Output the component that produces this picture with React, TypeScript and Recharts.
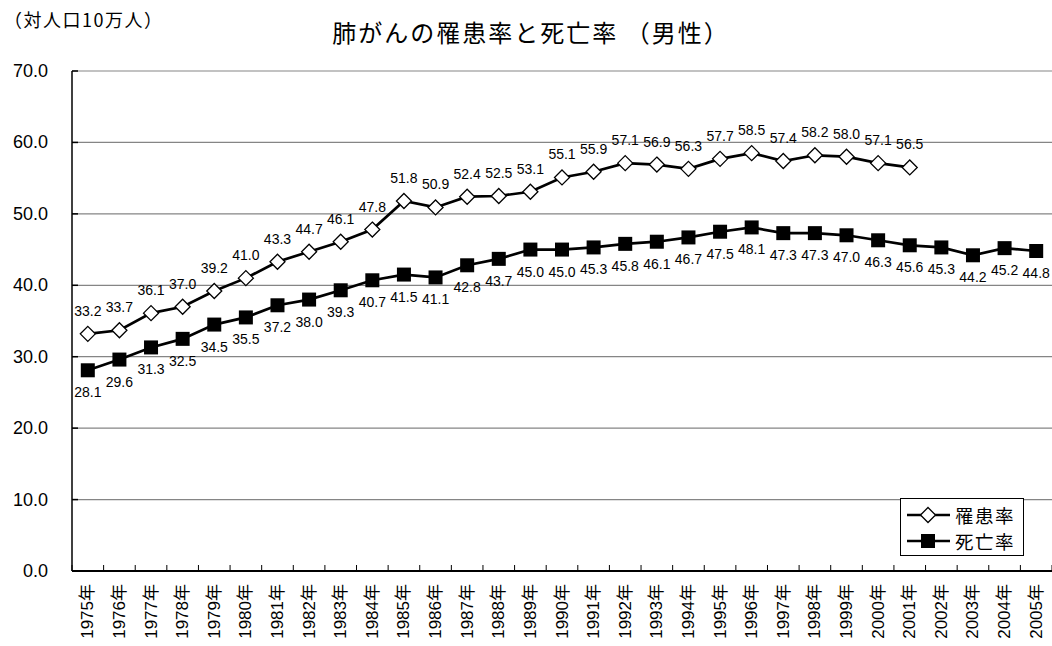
import { CartesianGrid, LabelList, Legend, Line, LineChart, XAxis, YAxis } from "recharts";

const years = [
  "1975年", "1976年", "1977年", "1978年", "1979年", "1980年", "1981年", "1982年",
  "1983年", "1984年", "1985年", "1986年", "1987年", "1988年", "1989年", "1990年",
  "1991年", "1992年", "1993年", "1994年", "1995年", "1996年", "1997年", "1998年",
  "1999年", "2000年", "2001年", "2002年", "2003年", "2004年", "2005年",
];

// 罹患率 (1975-2001)
const incidence = [
  33.2, 33.7, 36.1, 37.0, 39.2, 41.0, 43.3, 44.7, 46.1, 47.8, 51.8, 50.9, 52.4, 52.5,
  53.1, 55.1, 55.9, 57.1, 56.9, 56.3, 57.7, 58.5, 57.4, 58.2, 58.0, 57.1, 56.5,
];

// 死亡率 (1975-2005)
const mortality = [
  28.1, 29.6, 31.3, 32.5, 34.5, 35.5, 37.2, 38.0, 39.3, 40.7, 41.5, 41.1, 42.8, 43.7,
  45.0, 45.0, 45.3, 45.8, 46.1, 46.7, 47.5, 48.1, 47.3, 47.3, 47.0, 46.3, 45.6, 45.3,
  44.2, 45.2, 44.8,
];

const yTicks = [0, 10, 20, 30, 40, 50, 60, 70];

const data = years.map((year, i) => ({
  year,
  incidence: incidence[i] ?? null,
  mortality: mortality[i] ?? null,
}));

const W = 1052;
const H = 646;
const PLOT_LEFT = 72;
const PLOT_TOP = 71;
const PLOT_BOTTOM = 571;
const BAND = (W - PLOT_LEFT) / years.length;
const FONT = '"Liberation Sans", Arial, "Noto Sans CJK JP", sans-serif';
const JP_FONT = '"Noto Sans CJK JP", sans-serif';

function Diamond({ cx, cy }: any) {
  if (cx == null || cy == null) return null;
  const r = 7.5;
  return (
    <polygon
      points={`${cx},${cy - r} ${cx + r},${cy} ${cx},${cy + r} ${cx - r},${cy}`}
      fill="#fff"
      stroke="#000"
      strokeWidth={1.3}
    />
  );
}

function Square({ cx, cy }: any) {
  if (cx == null || cy == null) return null;
  const r = 7;
  return <rect x={cx - r} y={cy - r} width={r * 2} height={r * 2} fill="#000" />;
}

function XTick({ x, payload, index }: any) {
  const left = x - BAND / 2;
  return (
    <g>
      <line x1={left} y1={PLOT_BOTTOM} x2={left} y2={PLOT_BOTTOM - 6} stroke="#000" />
      {index === years.length - 1 && (
        <line x1={x + BAND / 2} y1={PLOT_BOTTOM} x2={x + BAND / 2} y2={PLOT_BOTTOM - 6} stroke="#000" />
      )}
      <text
        transform={`translate(${x},${PLOT_BOTTOM + 13}) rotate(-90)`}
        textAnchor="end"
        dominantBaseline="central"
        fontSize={17}
        fill="#000"
        fontFamily={FONT}
      >
        {payload.value}
      </text>
    </g>
  );
}

function YTick({ y, payload }: any) {
  return (
    <g>
      <line x1={PLOT_LEFT} y1={y} x2={PLOT_LEFT + 6} y2={y} stroke="#000" strokeWidth={1.5} />
      <text
        x={PLOT_LEFT - 24}
        y={y}
        textAnchor="end"
        dominantBaseline="central"
        fontSize={18}
        fill="#000"
        fontFamily={FONT}
      >
        {Number(payload.value).toFixed(1)}
      </text>
    </g>
  );
}

function makeLabel(dy: number) {
  return ({ x, y, value }: any) =>
    value == null ? null : (
      <text
        x={x}
        y={y + dy}
        textAnchor="middle"
        dominantBaseline="central"
        fontSize={14}
        fill="#000"
        fontFamily={FONT}
      >
        {Number(value).toFixed(1)}
      </text>
    );
}

function LegendBox() {
  const rows = [
    { name: "罹患率", marker: "diamond" },
    { name: "死亡率", marker: "square" },
  ];
  return (
    <svg width={124} height={58} style={{ display: "block" }}>
      <rect x={0.5} y={0.5} width={123} height={57} fill="#fff" stroke="#000" />
      {rows.map((row, i) => {
        const cy = 17 + i * 26;
        return (
          <g key={row.name}>
            <line x1={7} y1={cy} x2={50} y2={cy} stroke="#000" strokeWidth={2.5} />
            {row.marker === "diamond" ? <Diamond cx={28} cy={cy} /> : <Square cx={28} cy={cy} />}
            <text
              x={55}
              y={cy}
              dominantBaseline="central"
              fontSize={18.5}
              letterSpacing={1.5}
              fontFamily={JP_FONT}
              fill="#000"
            >
              {row.name}
            </text>
          </g>
        );
      })}
    </svg>
  );
}

export default function App() {
  return (
    <div style={{ position: "absolute", left: 0, top: 0, width: W, height: H, background: "#fff", fontFamily: FONT }}>
      <LineChart
        width={W}
        height={H}
        data={data}
        margin={{ top: PLOT_TOP, right: 0, bottom: 0, left: 0 }}
      >
        <text x={4} y={19} dominantBaseline="central" fontSize={18} letterSpacing={1.5} fontFamily={JP_FONT} fill="#000">
          （対人口10万人）
        </text>
        <text
          x={531}
          y={31}
          textAnchor="middle"
          dominantBaseline="central"
          fontSize={24}
          letterSpacing={2}
          fontFamily={JP_FONT}
          fill="#000"
        >
          肺がんの罹患率と死亡率 （男性）
        </text>
        <CartesianGrid vertical={false} stroke="#858585" strokeWidth={1.2} />
        <XAxis
          dataKey="year"
          height={H - PLOT_BOTTOM}
          interval={0}
          padding={{ left: BAND / 2, right: BAND / 2 }}
          tickLine={false}
          tickSize={0}
          tickMargin={0}
          tick={<XTick />}
          axisLine={{ stroke: "#000", strokeWidth: 2 }}
        />
        <YAxis
          width={PLOT_LEFT}
          domain={[0, 70]}
          ticks={yTicks}
          interval={0}
          tickLine={false}
          tick={<YTick />}
          axisLine={{ stroke: "#000", strokeWidth: 1.5 }}
        />
        <Legend
          layout="vertical"
          align="center"
          verticalAlign="middle"
          content={() => <LegendBox />}
          wrapperStyle={{ left: 900, top: 498, width: 124, height: 58 }}
        />
        <Line
          dataKey="incidence"
          name="罹患率"
          stroke="#000"
          strokeWidth={2.7}
          dot={<Diamond />}
          activeDot={false}
          isAnimationActive={false}
          connectNulls={false}
        >
          <LabelList dataKey="incidence" content={makeLabel(-23)} />
        </Line>
        <Line
          dataKey="mortality"
          name="死亡率"
          stroke="#000"
          strokeWidth={2.7}
          dot={<Square />}
          activeDot={false}
          isAnimationActive={false}
        >
          <LabelList dataKey="mortality" content={makeLabel(22)} />
        </Line>
      </LineChart>
    </div>
  );
}
